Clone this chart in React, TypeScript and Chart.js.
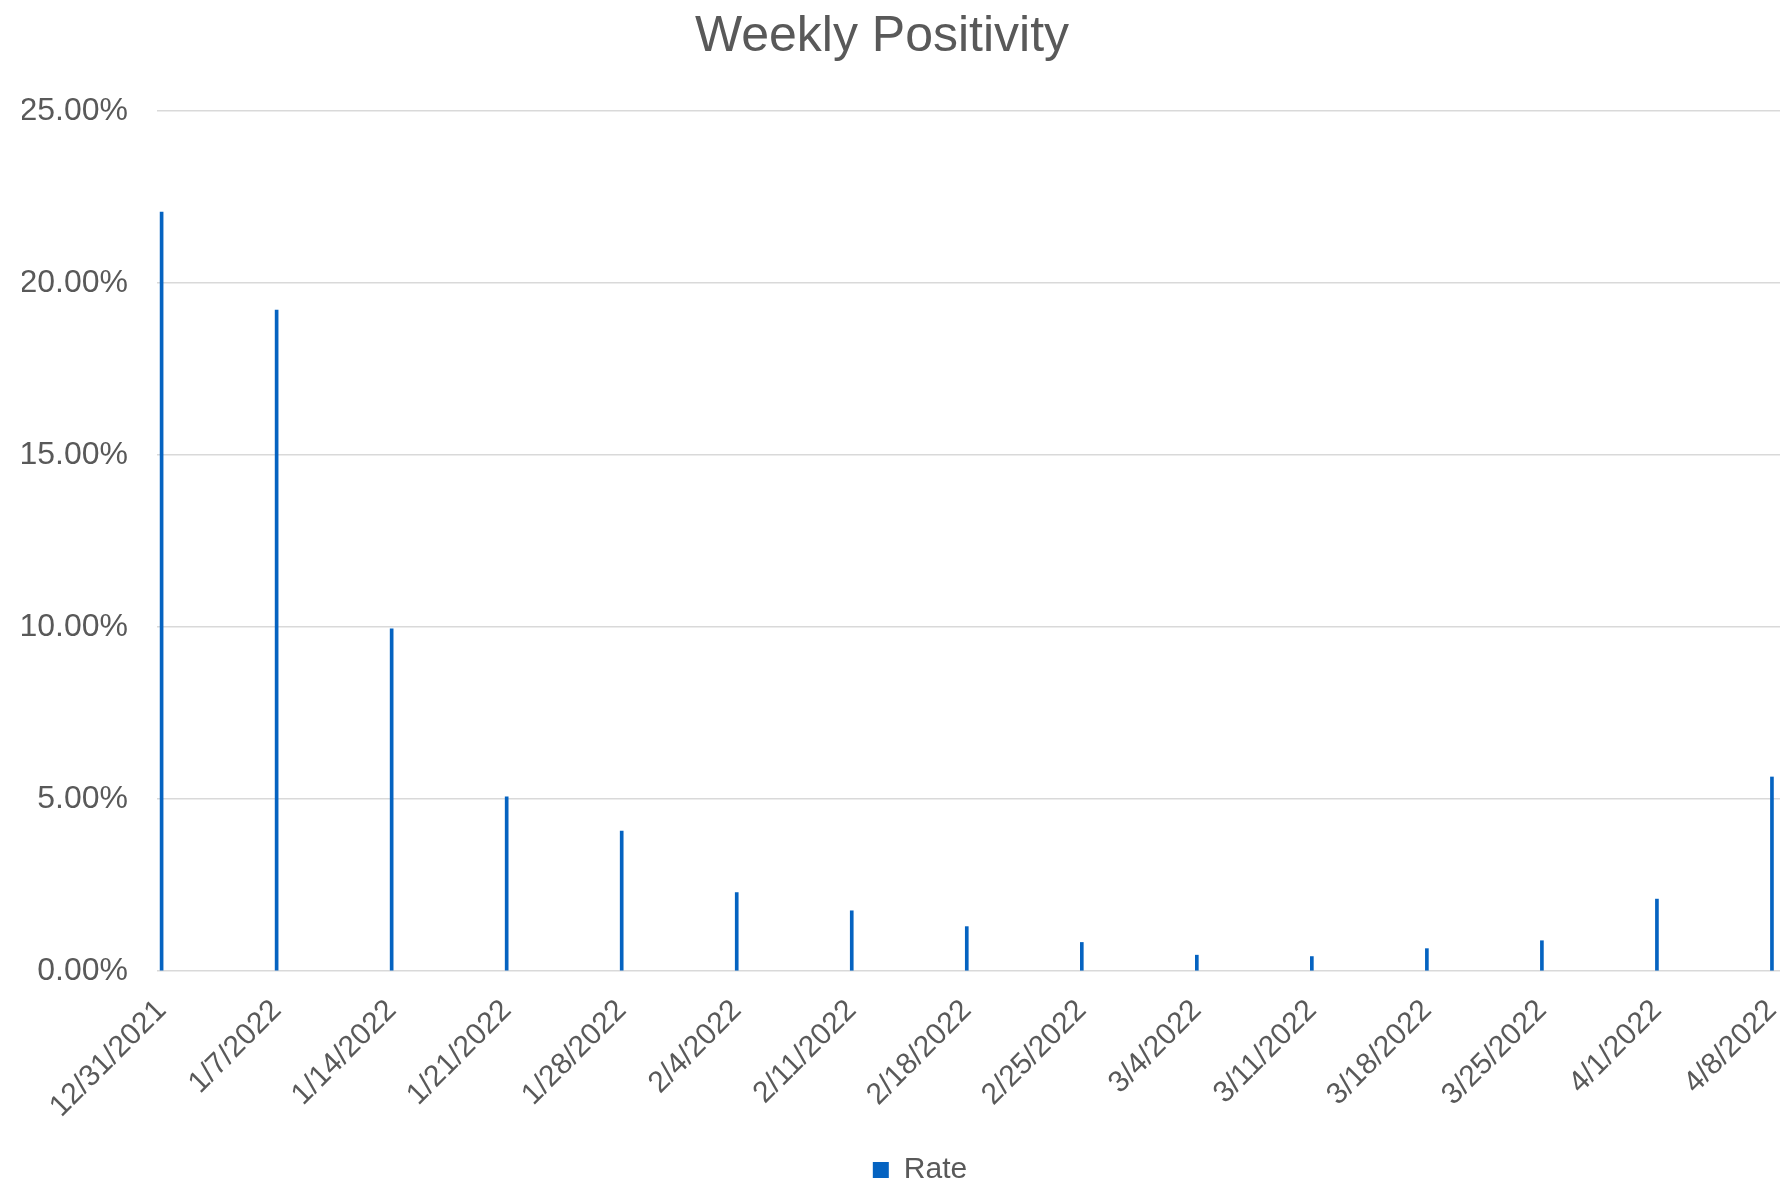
import React, { useEffect, useRef } from "react";
import { Chart, registerables } from "chart.js";

Chart.register(...registerables);

const categories = [
  "12/31/2021", "1/7/2022", "1/14/2022", "1/21/2022", "1/28/2022",
  "2/4/2022", "2/11/2022", "2/18/2022", "2/25/2022", "3/4/2022",
  "3/11/2022", "3/18/2022", "3/25/2022", "4/1/2022", "4/8/2022",
];
const rateValues = [
  22.06, 19.21, 9.95, 5.06, 4.07, 2.28, 1.75, 1.29, 0.83, 0.46, 0.42, 0.65, 0.88, 2.09, 5.64,
];
const yTicks = [0, 5, 10, 15, 20, 25];

const TEXT = "#595959";
const FONT = "'Liberation Sans', Arial, sans-serif";

const shiftPlugin = {
  id: "shiftBoxes",
  afterLayout(chart: any) {
    const t = chart.titleBlock;
    if (t) {
      t.left -= 19;
      t.right -= 19;
    }
    const l = chart.legend;
    if (l) {
      l.left += 19;
      l.right += 19;
    }
  },
};

export default function App() {
  const ref = useRef<HTMLCanvasElement | null>(null);
  useEffect(() => {
    if (!ref.current) return;
    const chart = new Chart(ref.current, {
      type: "bar",
      plugins: [shiftPlugin],
      data: {
        datasets: [
          {
            label: "Rate",
            data: rateValues.map((v, i) => ({ x: i, y: v })),
            backgroundColor: "#0563C1",
            borderWidth: 0,
            barThickness: 3,
          },
        ],
      },
      options: {
        animation: false,
        responsive: true,
        maintainAspectRatio: false,
        layout: { padding: { left: 22, right: 3, top: 0, bottom: -11 } },
        plugins: {
          tooltip: { enabled: false },
          title: {
            display: true,
            text: "Weekly Positivity",
            color: TEXT,
            font: { family: FONT, size: 50, weight: "normal" },
            padding: { top: 7, bottom: 44 },
          },
          legend: {
            position: "bottom",
            labels: {
              color: TEXT,
              font: { family: FONT, size: 30 },
              boxWidth: 16,
              boxHeight: 16,
              padding: 0,
            },
          },
        },
        scales: {
          x: {
            type: "linear",
            offset: false,
            min: -0.04,
            max: 14.07,
            afterBuildTicks: (scale: any) => {
              scale.ticks = categories.map((_, i) => ({ value: i }));
            },
            afterFit: (scale: any) => {
              scale.height = 184;
              scale.paddingLeft = 0;
              scale.paddingRight = 0;
            },
            ticks: {
              autoSkip: false,
              minRotation: 45,
              maxRotation: 45,
              color: TEXT,
              font: { family: FONT, size: 30 },
              padding: 22,
              callback: (v: any) => categories[Math.round(Number(v))] ?? "",
            },
            grid: { display: false, drawTicks: false },
            border: { display: false },
          },
          y: {
            min: 0,
            max: 25,
            afterBuildTicks: (scale: any) => {
              scale.ticks = yTicks.map((v) => ({ value: v }));
            },
            afterFit: (scale: any) => {
              scale.width = 135;
            },
            ticks: {
              color: TEXT,
              font: { family: FONT, size: 32 },
              padding: 29,
              callback: (v: any) => Number(v).toFixed(2) + "%",
            },
            grid: { color: "#D9D9D9", lineWidth: 1.5, drawTicks: false },
            border: { display: false },
          },
        },
      },
    });
    return () => chart.destroy();
  }, []);
  return (
    <div style={{ position: "fixed", left: 0, top: 0, width: 1783, height: 1184, background: "#fff" }}>
      <canvas ref={ref} />
    </div>
  );
}
